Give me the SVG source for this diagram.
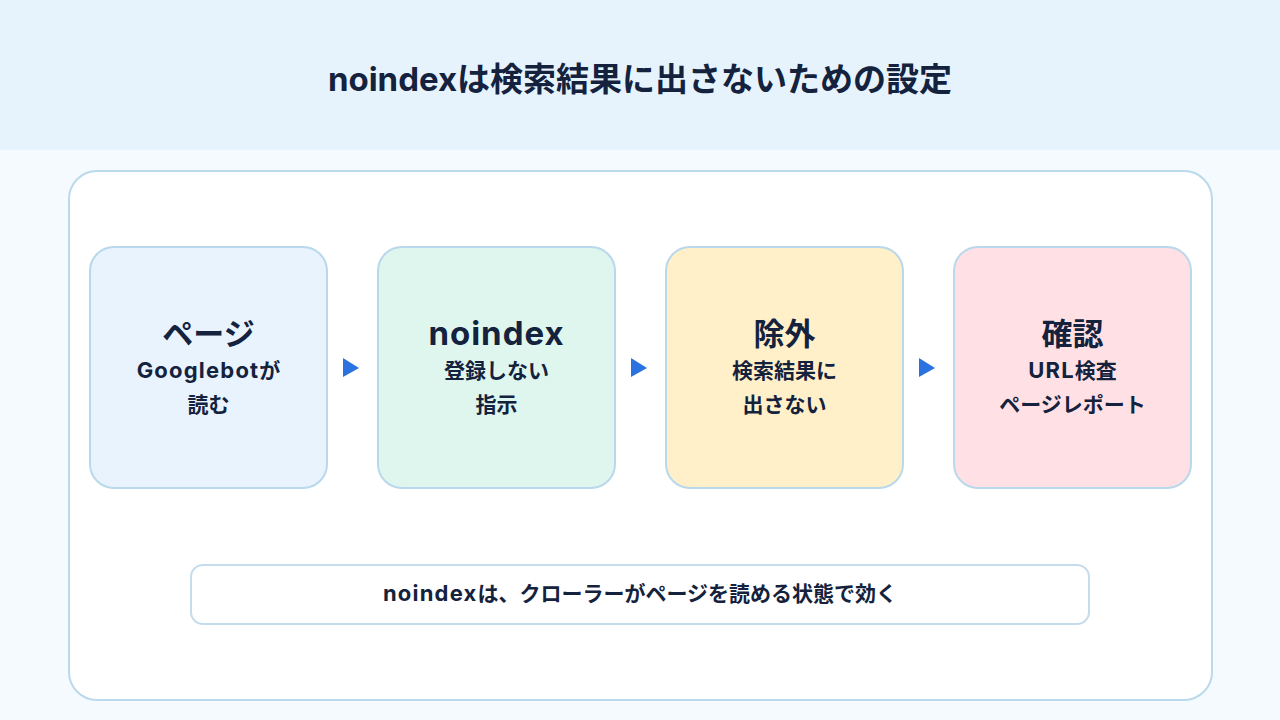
<svg xmlns="http://www.w3.org/2000/svg" width="1280" height="720" viewBox="0 0 1280 720">
<style>
text{font-family:Inter,"Noto Sans CJK JP",sans-serif;font-weight:700;fill:#14223D;text-anchor:middle}
.card{stroke:#B9D8EB;stroke-width:2}
.t{font-size:31px}
.s{font-size:21px}
.lat{font-size:22px;letter-spacing:1.2px}
.arrow{fill:#2A72E0}
</style>
<rect x="0" y="0" width="1280" height="720" fill="#F5FAFE"/>
<rect x="0" y="0" width="1280" height="150" fill="#E6F3FD"/>
<text x="640" y="91" style="font-size:33px">noindexは検索結果に出さないための設定</text>
<rect id="panel" x="69" y="171" width="1143" height="529" rx="28" fill="#FFFFFF" stroke="#BBD9EC" stroke-width="2"/>
<g id="node-page">
<rect class="card" x="90" y="247" width="237" height="241" rx="24" fill="#E8F3FD"/>
<text class="t" x="208.5" y="345">ページ</text>
<text class="s" x="208.5" y="378"><tspan class="lat">Googlebot</tspan>が</text>
<text class="s" x="208.5" y="412">読む</text>
</g>
<g id="node-noindex">
<rect class="card" x="378" y="247" width="237" height="241" rx="24" fill="#DFF6EE"/>
<text class="t" x="496.5" y="345" style="font-size:33px;letter-spacing:1px">noindex</text>
<text class="s" x="496.5" y="378">登録しない</text>
<text class="s" x="496.5" y="412">指示</text>
</g>
<g id="node-exclude">
<rect class="card" x="666" y="247" width="237" height="241" rx="24" fill="#FFF0C9"/>
<text class="t" x="784.5" y="345">除外</text>
<text class="s" x="784.5" y="378">検索結果に</text>
<text class="s" x="784.5" y="412">出さない</text>
</g>
<g id="node-check">
<rect class="card" x="954" y="247" width="237" height="241" rx="24" fill="#FFE1E5"/>
<text class="t" x="1072.5" y="345">確認</text>
<text class="s" x="1072.5" y="378"><tspan class="lat">URL</tspan>検査</text>
<text class="s" x="1072.5" y="412">ページレポート</text>
</g>
<g id="connectors">
<polygon class="arrow" points="343,358 359,368 343,377"/>
<polygon class="arrow" points="631,358 647,368 631,377"/>
<polygon class="arrow" points="919,358 935,368 919,377"/>
</g>
<g id="note">
<rect x="191" y="565" width="898" height="59" rx="12" fill="#FFFFFF" stroke="#C5DCEC" stroke-width="2"/>
<text class="s" x="640" y="601"><tspan class="lat">noindex</tspan>は、クローラーがページを読める状態で効く</text>
</g>
</svg>
